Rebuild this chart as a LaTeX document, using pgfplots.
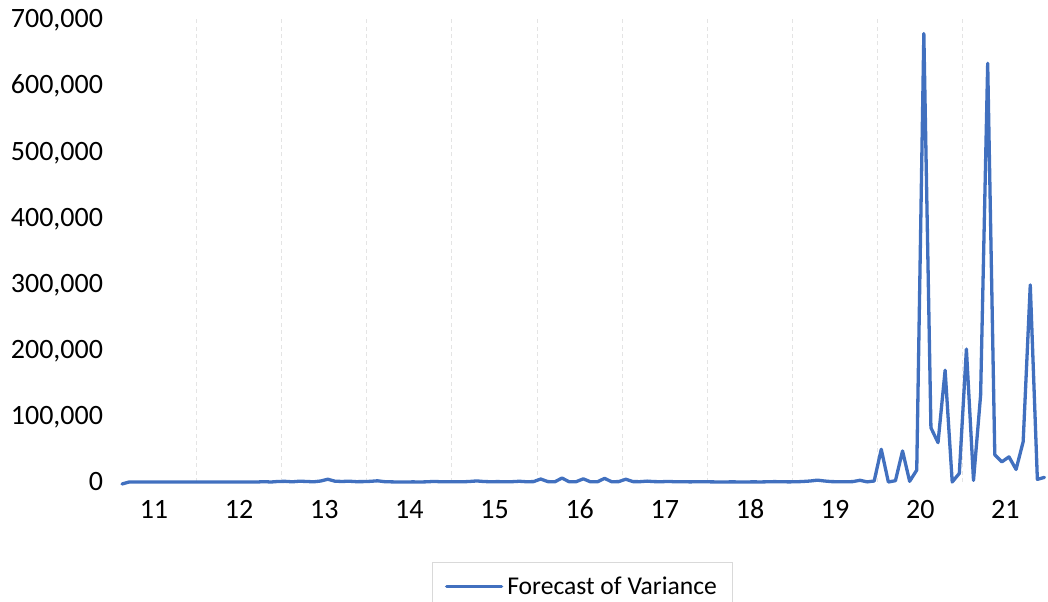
\documentclass[border=0pt]{standalone}
\usepackage{fontspec}
\setmainfont{Carlito}
\usepackage{pgfplots}
\pgfplotsset{compat=1.18}
\usepackage{pgfplotstable}
\definecolor{xlblue}{HTML}{4170BF}
\definecolor{gridgray}{HTML}{E4E4E4}
\definecolor{boxgray}{HTML}{D9D9D9}

% monthly values, index 0 = first month shown
\pgfplotstableread{
i v
0 -3000
1 0
2 0
3 0
4 0
5 0
6 0
7 0
8 0
9 0
10 0
11 0
12 0
13 0
14 0
15 0
16 0
17 0
18 0
19 0
20 500
21 0
22 800
23 1000
24 300
25 1200
26 800
27 300
28 1500
29 4200
30 1200
31 800
32 1200
33 500
34 600
35 1000
36 1800
37 500
38 200
39 0
40 0
41 200
42 0
43 300
44 900
45 300
46 300
47 500
48 300
49 800
50 1600
51 700
52 400
53 600
54 300
55 500
56 1100
57 400
58 600
59 4500
60 600
61 300
62 6000
63 400
64 500
65 4800
66 400
67 300
68 5500
69 400
70 600
71 4200
72 600
73 500
74 1300
75 600
76 400
77 900
78 300
79 400
80 200
81 300
82 500
83 200
84 100
85 100
86 200
87 100
88 100
89 200
90 100
91 300
92 600
93 300
94 200
95 300
96 800
97 1500
98 2800
99 1500
100 600
101 400
102 300
103 600
104 2600
105 200
106 1500
107 49500
108 0
109 2000
110 47000
111 1000
112 18000
113 678000
114 82000
115 59500
116 169000
117 0
118 13000
119 201000
120 2500
121 131000
122 633000
123 41000
124 30500
125 38000
126 19000
127 61000
128 298000
129 4000
130 7000
}\variance

\begin{document}
\begin{tikzpicture}
\begin{axis}[
    at={(0,0)}, anchor=south west,
    scale only axis,
    width=468.3bp, height=231.5bp,
    xmin=-1.5, xmax=130.5,
    ymin=0, ymax=700000,
    clip=false,
    axis line style={draw=none},
    major tick length=0pt,
    xtick={4.5,16.5,...,124.5},
    xticklabels={11,12,13,14,15,16,17,18,19,20,21},
    extra x ticks={10.5,22.5,...,118.5},
    extra x tick labels={},
    extra x tick style={grid=major, major grid style={gridgray, line width=0.5bp, dash pattern=on 2bp off 1.7bp}},
    ytick={0,100000,...,700000},
    scaled y ticks=false,
    /pgf/number format/assume math mode=true,
    /pgf/number format/fixed,
    /pgf/number format/1000 sep={,},
    ticklabel style={font=\fontsize{14bp}{16bp}\selectfont, inner sep=0pt},
    yticklabel style={anchor=base east, xshift=-4bp, yshift=-4.4bp},
    xticklabel style={anchor=base, yshift=-18.2bp},
    legend style={at={(0.5035,-0.1728)}, anchor=north, draw=boxgray, line width=0.5bp,
        font=\fontsize{12.8bp}{15bp}\selectfont, inner xsep=6bp, inner ysep=5bp,
        /tikz/every even column/.append style={column sep=7.5bp}},
    legend image code/.code={\draw[#1] (0bp,0bp) -- (27.5bp,0bp);},
]
\addplot[xlblue, line width=1.65bp, line join=round, line cap=round] table[x=i, y=v] {\variance};
\legend{Forecast of Variance}
\end{axis}
\pgfresetboundingbox
\useasboundingbox (-55.7bp,-60bp) rectangle (468.3bp,241bp);
\end{tikzpicture}
\end{document}
